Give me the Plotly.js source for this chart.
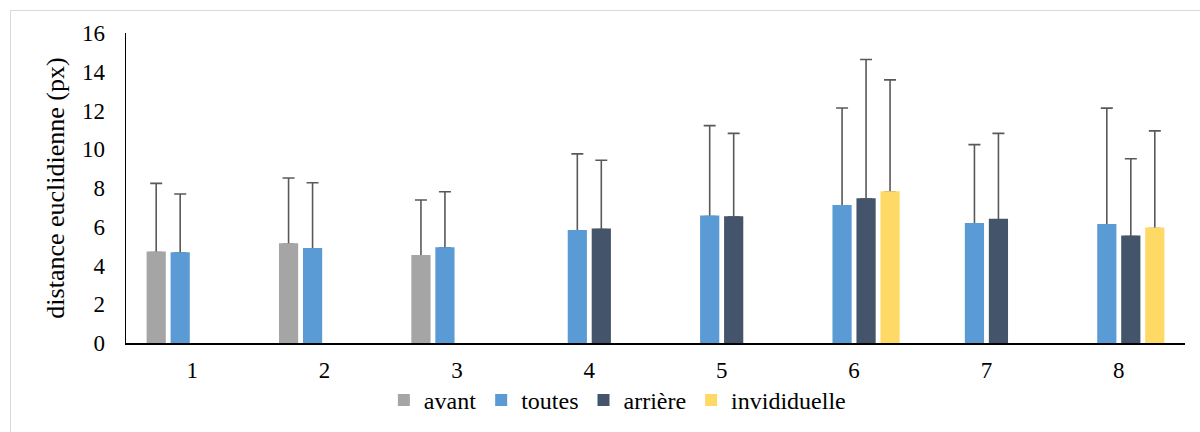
<!DOCTYPE html>
<html>
<head>
<meta charset="utf-8">
<script src="https://cdn.plot.ly/plotly-3.0.1.min.js"></script>
<style>
  html, body { margin: 0; padding: 0; background: #ffffff; overflow: hidden; }
  #chart { width: 1200px; height: 432px; position: absolute; left: 0; top: 0; }
  #frame { position: absolute; left: 10px; top: 10px; width: 1400px; height: 600px;
           border: 1px solid #d9d9d9; pointer-events: none; }
</style>
</head>
<body>
<div id="chart"></div>
<div id="frame"></div>
<script>
const categories = ['1', '2', '3', '4', '5', '6', '7', '8'];

const seriesNames = ['avant', 'toutes', 'arrière', 'invididuelle'];

const avantValues        = [4.67, 5.10, 4.50, null, null, null, null, null];
const avantErrors        = [3.57, 3.42, 2.88, null, null, null, null, null];

const toutesValues       = [4.64, 4.86, 4.90, 5.78, 6.53, 7.07, 6.15, 6.09];
const toutesErrors       = [3.05, 3.41, 2.91, 3.98, 4.69, 5.06, 4.09, 6.03];

const arriereValues      = [null, null, null, 5.86, 6.50, 7.43, 6.36, 5.50];
const arriereErrors      = [null, null, null, 3.57, 4.32, 7.20, 4.46, 4.01];

const individuelleValues = [null, null, null, null, null, 7.79, null, 5.91];
const individuelleErrors = [null, null, null, null, null, 5.79, null, 5.04];

const colors = ['#A5A5A5', '#5B9BD5', '#44546A', '#FFD966'];

const allValues = [avantValues, toutesValues, arriereValues, individuelleValues];
const allErrors = [avantErrors, toutesErrors, arriereErrors, individuelleErrors];

// first pass: bars carrying the upper-only error bars
const errTraces = seriesNames.map((name, i) => ({
  type: 'bar',
  name: name,
  x: categories,
  y: allValues[i],
  offsetgroup: 'g' + i,
  marker: { color: colors[i], line: { width: 0 } },
  error_y: {
    type: 'data',
    symmetric: false,
    array: allErrors[i],
    arrayminus: allErrors[i].map(v => (v === null ? null : 0)),
    color: '#595959',
    thickness: 1.6,
    width: 6
  },
  showlegend: true,
  hoverinfo: 'skip'
}));

// second pass: the same bars drawn on top (with a same-colour edge) so the
// lower cap of each error bar is hidden
const barTraces = seriesNames.map((name, i) => ({
  type: 'bar',
  name: name,
  x: categories,
  y: allValues[i],
  offsetgroup: 'g' + i,
  marker: { color: colors[i], line: { width: 1.8, color: colors[i] } },
  showlegend: false,
  hoverinfo: 'skip'
}));

const serif = '"Liberation Serif", "Times New Roman", serif';

const layout = {
  width: 1200,
  height: 432,
  margin: { l: 126, r: 15, t: 33, b: 89, pad: 0, autoexpand: false },
  paper_bgcolor: '#ffffff',
  plot_bgcolor: '#ffffff',
  barmode: 'group',
  bargap: 0.275,
  bargroupgap: 0.275,
  showlegend: true,
  font: { family: serif, color: '#000000', size: 23 },
  xaxis: {
    type: 'category',
    showgrid: false,
    zeroline: false,
    showline: true,
    linecolor: '#000000',
    linewidth: 1.5,
    layer: 'above traces',
    ticks: '',
    tickfont: { family: serif, size: 23, color: '#000000' },
    ticklabelstandoff: 6
  },
  yaxis: {
    range: [0, 16],
    dtick: 2,
    tick0: 0,
    showgrid: false,
    zeroline: false,
    showline: true,
    linecolor: '#000000',
    linewidth: 1.5,
    layer: 'above traces',
    ticks: '',
    tickfont: { family: serif, size: 23, color: '#000000' },
    ticklabelstandoff: 15,
    title: { text: 'distance euclidienne (px)', font: { family: serif, size: 26, color: '#000000' }, standoff: 10 }
  },
  legend: {
    orientation: 'h',
    x: 0.2435,
    xanchor: 'left',
    y: -0.185,
    yanchor: 'middle',
    font: { family: serif, size: 24, color: '#000000' },
    itemwidth: 30,
    traceorder: 'normal',
    bgcolor: 'rgba(0,0,0,0)'
  }
};

Plotly.newPlot('chart', errTraces.concat(barTraces), layout, { displayModeBar: false, staticPlot: true });
</script>
</body>
</html>
